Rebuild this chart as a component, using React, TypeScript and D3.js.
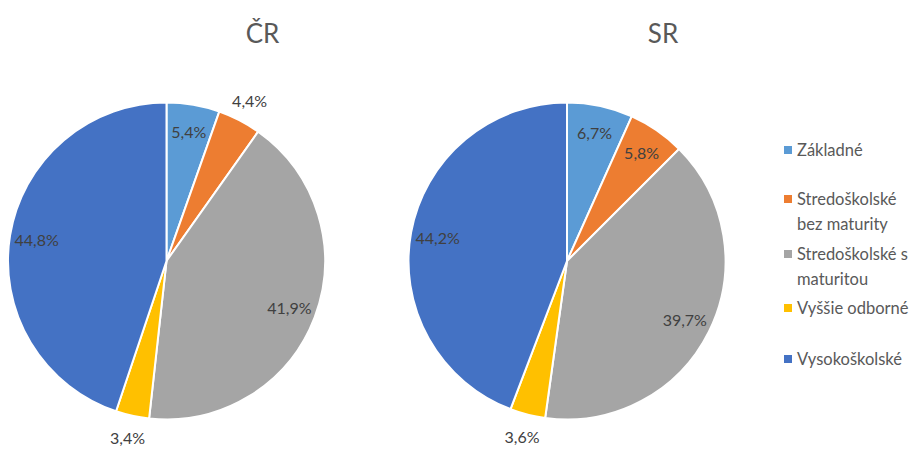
import React from "react";
import * as d3 from "d3";

const categories = ["Základné", "Stredoškolské bez maturity", "Stredoškolské s maturitou", "Vyššie odborné", "Vysokoškolské"];
const legendLines = [["Základné"], ["Stredoškolské", "bez maturity"], ["Stredoškolské s", "maturitou"], ["Vyššie odborné"], ["Vysokoškolské"]];
const titles = ["ČR", "SR"];
const valuesCR = [5.4, 4.4, 41.9, 3.4, 44.8];
const valuesSR = [6.7, 5.8, 39.7, 3.6, 44.2];
const colors = ["#5B9BD5", "#ED7D31", "#A5A5A5", "#FFC000", "#4472C4"];

const W = 920, H = 449;
const R = 158.5;
const FONT = "Lato, 'Open Sans', sans-serif";

function Pie({ cx, cy, values, title }: { cx: number; cy: number; values: number[]; title: string }) {
  const pie = d3.pie<number>().sort(null).value((d) => d);
  const arcs = pie(values);
  const arc = d3.arc<d3.PieArcDatum<number>>().innerRadius(0).outerRadius(R);
  const fmt = (v: number) => v.toFixed(1).replace(".", ",") + "%";
  return (
    <g>
      <text x={cx + 96} y={33} textAnchor="middle" dominantBaseline="central" fontSize={26} fill="#595959" fontFamily={FONT}>{title}</text>
      <g transform={`translate(${cx},${cy})`}>
        {arcs.map((a, i) => (
          <path key={i} d={arc(a) || ""} fill={colors[i]} stroke="#fff" strokeWidth={2} strokeLinejoin="round" />
        ))}
        {arcs.map((a, i) => {
          const mid = (a.startAngle + a.endAngle) / 2;
          const r = a.data >= 5 ? R * 0.83 : R * 1.14;
          const x = Math.sin(mid) * r;
          const y = -Math.cos(mid) * r;
          return (
            <text key={"l" + i} x={x} y={y} textAnchor="middle" dominantBaseline="central" fontSize={16} fill="#404040" fontFamily={FONT}>{fmt(a.data)}</text>
          );
        })}
      </g>
    </g>
  );
}

export default function App() {
  const legendY = [150, 199, 254, 308, 359];
  return (
    <svg width={W} height={H} style={{ position: "absolute", left: 0, top: 0, background: "#fff" }}>
      <rect width={W} height={H} fill="#fff" />
      <Pie cx={166.5} cy={261} values={valuesCR} title={titles[0]} />
      <Pie cx={567} cy={261} values={valuesSR} title={titles[1]} />
      <g>
        {categories.map((c, i) => (
          <g key={c}>
            <rect x={784} y={legendY[i] - 4} width={8} height={8} fill={colors[i]} />
            {legendLines[i].map((line, j) => (
              <text key={j} x={797} y={legendY[i] + j * 25} dominantBaseline="central" fontSize={16.5} fill="#595959" fontFamily={FONT}>{line}</text>
            ))}
          </g>
        ))}
      </g>
    </svg>
  );
}
